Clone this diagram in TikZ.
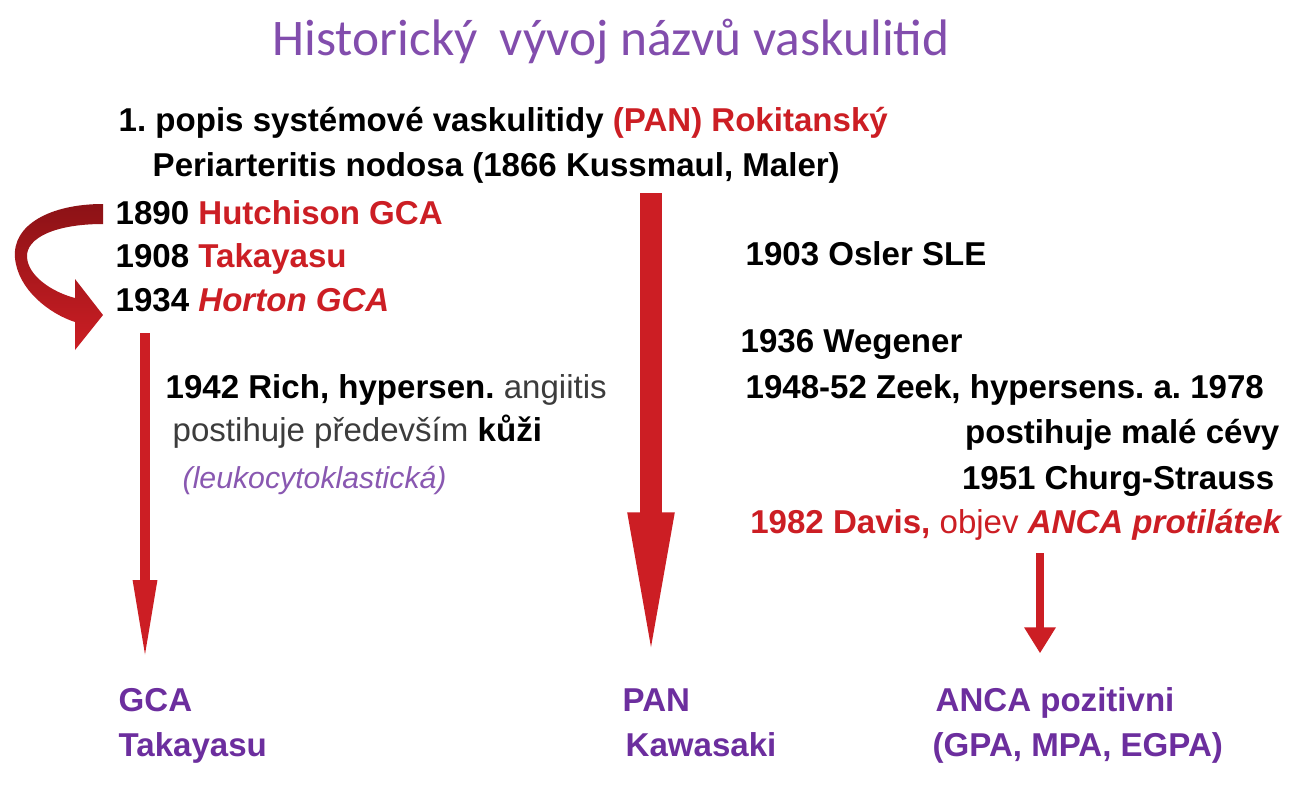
\documentclass[tikz,border=0pt]{standalone}
\usepackage{fontspec}
\setmainfont{Liberation Sans}
\newfontfamily\nadpisfont{Carlito}
\usetikzlibrary{arrows.meta}
\definecolor{cervena}{RGB}{204,30,36}
\definecolor{tmavocervena}{RGB}{140,18,22}
\definecolor{fialova}{RGB}{108,46,158}
\definecolor{seda}{RGB}{60,60,60}
\newcommand\tx{\fontsize{9.4}{11}\selectfont}
\frenchspacing

\tikzset{
  radek/.style={anchor=base west, inner sep=0pt, font=\tx\bfseries},
  vpravo/.style={radek, anchor=base east},
  skupina/.style={radek, text=fialova},
  sipka/.style={draw=cervena}
}

\begin{document}
\begin{tikzpicture}[x=0.01cm,y=-0.01cm]
\fill[white] (0,0) rectangle (1300,800);
\useasboundingbox (0,0) rectangle (1300,800);

\node[anchor=base west, inner sep=0pt, text=fialova!85,
      font=\nadpisfont\fontsize{14.6}{17}\selectfont] (nadpis) at (272,55)
  {Historický\hspace{0.2em} vývoj názvů vaskulitid};

\node[radek] (popis) at (118,131)
  {1. popis systémové vaskulitidy {\color{cervena}(PAN) Rokitanský}};
\node[radek] (peri) at (152,176) {Periarteritis nodosa (1866 Kussmaul, Maler)};
\node[radek] (r1890) at (115,224) {1890 {\color{cervena}Hutchison GCA}};
\node[radek] (r1908) at (115,267) {1908 {\color{cervena}Takayasu}};
\node[radek] (r1934) at (115,311) {1934 {\color{cervena}\itshape Horton GCA}};

\node[radek] (rich) at (165,398)
  {1942 Rich, hypersen. {\mdseries\color{seda}angiitis}};
\node[radek] (kuze) at (172,441) {{\mdseries\color{seda}postihuje především} kůži};
\node[radek, font=\fontsize{8.6}{10}\selectfont\itshape, text=fialova!80] (leuko)
  at (182,488) {(leukocytoklastická)};

\node[radek] (osler) at (745,265) {1903 Osler SLE};
\node[radek] (wegener) at (740,352) {1936 Wegener};
\node[radek] (zeek) at (745,398) {1948-52 Zeek, hypersens. a. 1978};
\node[vpravo] (male) at (1280,443) {postihuje malé cévy};
\node[vpravo] (churg) at (1275,489) {1951 Churg-Strauss};
\node[vpravo, text=cervena] (davis) at (1282,533)
  {1982 Davis, {\mdseries objev} {\itshape ANCA protilátek}};

% vysledne skupiny
\node[skupina] (gca) at (118,711) {GCA};
\node[skupina] (takayasu) at (118,756) {Takayasu};
\node[skupina] (pan) at (622,711) {PAN};
\node[skupina] (kawasaki) at (625,756) {Kawasaki};
\node[skupina] (anca) at (935,711) {ANCA pozitivni};
\node[skupina] (gpa) at (932,756) {(GPA, MPA, EGPA)};

% sipky
\coordinate (gcaZac) at (145,333);
\coordinate (panZac) at (651,193);
\coordinate (ancaZac) at (1040,553);
\draw[sipka, line width=0.09cm, shorten >=0.27cm,
      -{Triangle[width=0.22cm,length=0.8cm]}]
  (gcaZac) -- (gcaZac |- gca.north);
\draw[sipka, line width=0.22cm, shorten >=0.15cm,
      -{Triangle[width=0.40cm,length=1.6cm]}]
  (panZac) -- (panZac |- pan.north);
\draw[sipka, line width=0.08cm, shorten >=0.33cm,
      -{Triangle[width=0.30cm,length=0.26cm]}]
  (ancaZac) -- (ancaZac |- anca.north);

% zahnuta sipka 1890 -> 1934
\shade[top color=tmavocervena, bottom color=cervena]
  (103,204) .. controls (50,204) and (12,225) .. (15,258)
  .. controls (18,290) and (50,314) .. (75,322)
  -- (75,350) -- (103,315) -- (75,279) -- (75,298)
  .. controls (52,292) and (28,276) .. (27,257)
  .. controls (26,238) and (55,224) .. (103,224) -- cycle;
\end{tikzpicture}
\end{document}
